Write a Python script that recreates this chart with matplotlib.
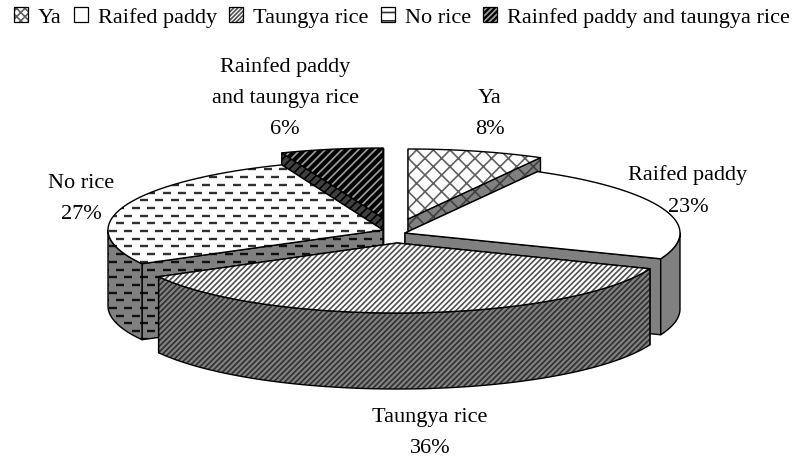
import matplotlib
matplotlib.use('Agg')
import matplotlib.pyplot as plt
import numpy as np
from matplotlib.collections import LineCollection
from matplotlib.legend_handler import HandlerTuple
from matplotlib.patches import Patch, Polygon

plt.rcParams['font.family'] = ['Liberation Serif', 'DejaVu Serif']
plt.rcParams['hatch.linewidth'] = 1.2

# Share of households by rice type
categories = ['Ya', 'Raifed paddy', 'Taungya rice', 'No rice', 'Rainfed paddy and taungya rice']
shares = [8, 23, 36, 27, 6]
label_lines = ['Ya', 'Raifed paddy', 'Taungya rice', 'No rice', 'Rainfed paddy\nand taungya rice']

# Layout of each exploded slice, in pixels
apex_x = [408, 405, 397, 383, 383]
apex_y = [219, 233, 243, 230, 218]
radius_x = [275, 275, 272, 275, 275]
radius_y = [70, 70, 70, 70, 70]
depth = 76
label_x = [490, 688, 430, 81, 285]
label_y = [114, 191, 433, 199, 98]

# Fill styles: top face colour, top hatch, hatch colour, wall colour, wall hatch colour
top_colors = ['white', 'white', 'white', 'white', 'black']
hatches = ['xx', None, '//////', 'dash', '////']
hatch_colors = ['#606060', 'white', '#505050', '#303030', '#a0a0a0']
wall_colors = ['#808080', '#808080', '#808080', '#808080', '#404040']
wall_hatch_colors = ['#404040', '#808080', '#303030', '#101010', '#000000']
draw_order = [4, 0, 1, 3, 2]

fig = plt.figure(figsize=(7.96, 4.61), dpi=100)
ax = fig.add_axes([0, 0, 1, 1])
ax.set_xlim(0, 796)
ax.set_ylim(461, 0)
ax.axis('off')


def dash_texture(patch, color):
    # rows of short staggered dashes, clipped to the face
    segs = []
    for row, y in enumerate(np.arange(0, 461, 7.7)):
        for x in np.arange(-8 * (row % 2), 796, 15.5):
            segs.append([(x, y), (x + 8, y)])
    lc = LineCollection(segs, colors=color, linewidths=1.7, zorder=patch.get_zorder())
    ax.add_collection(lc)
    lc.set_clip_path(patch)


def face(points, color, hatch, hatch_color, z):
    if hatch == 'dash':
        base = Polygon(points, closed=True, facecolor=color, edgecolor='none', zorder=z)
        ax.add_patch(base)
        dash_texture(base, hatch_color)
    else:
        ax.add_patch(Polygon(points, closed=True, facecolor=color, edgecolor=hatch_color,
                             hatch=hatch, linewidth=0, zorder=z))
    ax.add_patch(Polygon(points, closed=True, facecolor='none', edgecolor='black',
                         linewidth=1.0, joinstyle='round', zorder=z))


# slice angles, clockwise from 12 o'clock
edges = np.radians(np.cumsum([0] + shares) * 3.6)
z = 1
for i in draw_order:
    t0, t1 = edges[i], edges[i + 1]
    cx, cy, a, b = apex_x[i], apex_y[i], radius_x[i], radius_y[i]

    def rim(t):
        return np.column_stack([cx + a * np.sin(t), cy - b * np.cos(t)])

    # cut walls, the one that faces the viewer goes last
    for t in sorted([t0, t1], key=lambda v: -np.cos(v)):
        p = rim(np.array([t]))[0]
        quad = [(cx, cy), tuple(p), (p[0], p[1] + depth), (cx, cy + depth)]
        face(quad, wall_colors[i], hatches[i], wall_hatch_colors[i], z)
        z += 1

    # outer wall, only the part of the rim in front
    lo, hi = max(t0, np.pi / 2), min(t1, 3 * np.pi / 2)
    if hi > lo:
        arc = rim(np.linspace(lo, hi, 80))
        lower = arc[::-1] + np.array([0, depth])
        face(np.vstack([arc, lower]), wall_colors[i], hatches[i], wall_hatch_colors[i], z)
        z += 1

    # top face
    arc = rim(np.linspace(t0, t1, 120))
    face(np.vstack([[(cx, cy)], arc]), top_colors[i], hatches[i], hatch_colors[i], z)
    z += 1

for i, name in enumerate(label_lines):
    ax.text(label_x[i], label_y[i], f'{name}\n{shares[i]}%', ha='center', va='center',
            fontsize=16, linespacing=1.87, color='black', zorder=z)

# legend swatches
legend_hatches = ['xxxx', None, '////////', '--', '//////']
handles = []
for i in range(len(categories)):
    handles.append((Patch(facecolor=top_colors[i], edgecolor=hatch_colors[i], hatch=legend_hatches[i], linewidth=0),
                    Patch(facecolor='none', edgecolor='black', linewidth=0.9)))
ax.legend(handles, categories, handler_map={tuple: HandlerTuple(ndivide=1, pad=0)},
          loc='center', bbox_to_anchor=(402 / 796, 1 - 17.5 / 461), ncol=5, frameon=False,
          fontsize=16, handlelength=0.63, handleheight=0.63, handletextpad=0.45,
          columnspacing=0.55, borderpad=0, borderaxespad=0)

fig.savefig('out.png', dpi=100)
